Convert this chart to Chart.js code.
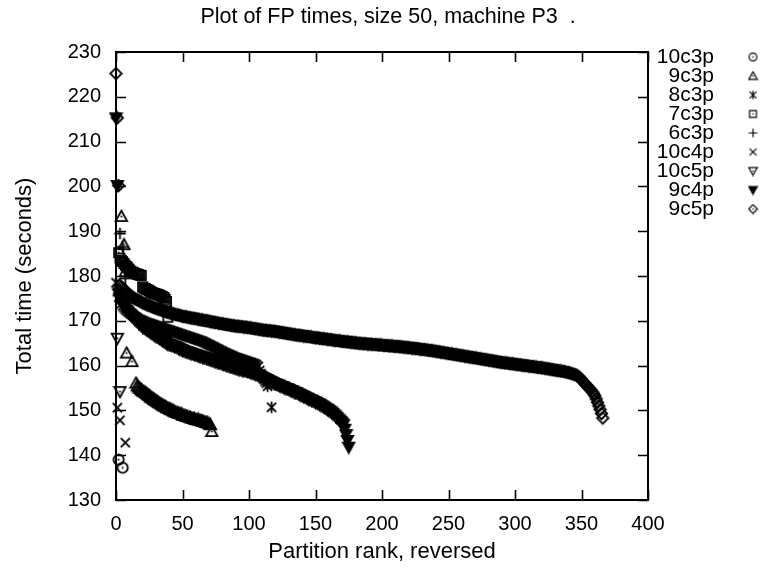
<!DOCTYPE html>
<html>
<head>
<meta charset="utf-8">
<script src="https://cdn.jsdelivr.net/npm/chart.js@4.4.0/dist/chart.umd.min.js"></script>
<style>
  html, body { margin: 0; padding: 0; background: #fff; }
  #wrap { width: 767px; height: 570px; }
</style>
</head>
<body>
<div id="wrap"><canvas id="myChart" width="767" height="570"></canvas></div>
<script>
// values indexed by partition rank (null = no point at that rank)
var seriesLabels = ['10c3p', '9c3p', '8c3p', '7c3p', '6c3p', '10c4p', '10c5p', '9c4p', '9c5p'];
var seriesMarkers = ['circle', 'triUp', 'star', 'square', 'plus', 'cross', 'triDown', 'triDownFill', 'diamond'];

var t10c3p = [null, null, 139.0, null, null, 137.2];

var t9c3p = [null, null, null, null, 193.3, null, 187.0, 181.0, 162.8, null,
  null, null, 160.9, null, null, 156.1, 155.5, 155.2, 154.9, 154.6,
  154.4, 154.2, 154.0, 153.8, 153.5, 153.3, 153.0, 152.8, 152.6, 152.4,
  152.2, 152.0, 151.8, 151.6, 151.4, 151.2, 151.0, 150.9, 150.7, 150.5,
  150.4, 150.2, 150.1, 149.9, 149.8, 149.6, 149.5, 149.4, 149.3, 149.2,
  149.0, 148.9, 148.8, 148.7, 148.6, 148.5, 148.4, 148.3, 148.2, 148.1,
  148.0, 147.9, 147.9, 147.8, 147.7, 147.6, 147.5, 147.4, 147.3, 147.2,
  147.0, 146.8, 145.3];

var t8c3p = [178.5, 176.5, 175.3, 174.5, 173.8, 173.3, 172.9, 172.6, 172.3, 172.0,
  171.8, 171.6, 171.4, 171.2, 171.0, 170.8, 170.6, 170.4, 170.3, 170.1,
  170.0, 169.9, 169.7, 169.6, 169.5, 169.4, 169.3, 169.2, 169.1, 169.0,
  168.9, 168.8, 168.7, 168.6, 168.5, 168.4, 168.3, 168.2, 168.1, 168.0,
  167.9, 167.8, 167.7, 167.6, 167.5, 167.4, 167.3, 167.2, 167.1, 167.0,
  166.9, 166.8, 166.7, 166.6, 166.5, 166.4, 166.3, 166.2, 166.1, 166.0,
  165.9, 165.8, 165.7, 165.6, 165.5, 165.4, 165.3, 165.1, 165.0, 164.8,
  164.7, 164.5, 164.4, 164.2, 164.1, 163.9, 163.8, 163.6, 163.5, 163.3,
  163.2, 163.0, 162.9, 162.7, 162.6, 162.5, 162.3, 162.2, 162.1, 161.9,
  161.8, 161.7, 161.6, 161.5, 161.4, 161.3, 161.2, 161.1, 161.0, 160.9,
  160.8, 160.7, 160.6, 160.5, 160.4, 160.3, 160.1, 159.8, 158.9, 158.2,
  157.6, 157.0, 156.5, 156.1, 155.4, null, null, 150.7];

var t7c3p = [null, null, 185.2, 184.0, 183.5, 183.2, 182.8, 182.4, 182.1, 181.8,
  181.4, 181.1, 180.9, 180.8, 180.6, 180.5, 180.4, 180.3, 180.2, 180.1,
  177.6, 177.3, 177.2, 177.0, 176.9, 176.7, 176.5, 176.3, 176.2, 176.1,
  176.0, 175.9, 175.8, 175.7, 175.5, 175.4, 175.2, 174.8, 174.3, 170.8];

var t6c3p = [null, null, null, 189.5, null, 186.5, 182.5, 179.5];

var t10c4p = [null, 150.6, null, 147.8, null, null, null, 142.8];

var t10c5p = [null, 166.1, null, 154.2];

var t9c4p = [215.3, 200.2, 176.0, 175.0, 174.3, 173.7, 173.2, 172.8, 172.4, 172.0,
  171.6, 171.3, 171.0, 170.7, 170.4, 170.1, 169.8, 169.5, 169.2, 168.9,
  168.6, 168.4, 168.2, 168.0, 167.8, 167.6, 167.4, 167.2, 167.0, 166.8,
  166.6, 166.4, 166.2, 166.0, 165.8, 165.6, 165.4, 165.2, 165.0, 164.8,
  164.7, 164.6, 164.5, 164.4, 164.3, 164.2, 164.0, 163.9, 163.7, 163.6,
  163.4, 163.3, 163.2, 163.1, 163.0, 162.9, 162.8, 162.7, 162.6, 162.5,
  162.4, 162.3, 162.2, 162.1, 162.0, 161.9, 161.8, 161.7, 161.6, 161.5,
  161.4, 161.3, 161.2, 161.1, 161.0, 160.9, 160.8, 160.7, 160.6, 160.5,
  160.4, 160.3, 160.2, 160.1, 160.0, 159.9, 159.8, 159.7, 159.6, 159.5,
  159.4, 159.3, 159.2, 159.2, 159.1, 159.0, 158.9, 158.9, 158.8, 158.7,
  158.6, 158.5, 158.4, 158.3, 158.2, 158.1, 158.0, 157.8, 157.7, 157.5,
  157.4, 157.2, 157.1, 156.9, 156.8, 156.6, 156.5, 156.3, 156.2, 156.0,
  155.9, 155.8, 155.7, 155.5, 155.4, 155.3, 155.2, 155.0, 154.9, 154.8,
  154.7, 154.5, 154.4, 154.3, 154.1, 154.0, 153.9, 153.7, 153.6, 153.4,
  153.3, 153.1, 153.0, 152.8, 152.7, 152.5, 152.4, 152.3, 152.1, 152.0,
  151.8, 151.7, 151.5, 151.4, 151.2, 151.0, 150.8, 150.6, 150.4, 150.2,
  150.0, 149.8, 149.6, 149.3, 149.0, 148.7, 148.4, 148.1, 147.8, 147.5,
  147.2, 146.8, 145.8, 144.6, 143.3, 141.8];

var t9c5p = [225.2, 215.3, 200.2, 177.9, 177.6, 177.3, 177.0, 176.7, 176.4, 176.1,
  175.8, 175.6, 175.4, 175.2, 175.0, 174.8, 174.7, 174.5, 174.4, 174.2,
  174.0, 173.9, 173.8, 173.6, 173.5, 173.4, 173.3, 173.2, 173.0, 172.9,
  172.8, 172.7, 172.6, 172.5, 172.4, 172.3, 172.2, 172.1, 172.0, 171.9,
  171.8, 171.7, 171.7, 171.6, 171.5, 171.4, 171.3, 171.3, 171.2, 171.1,
  171.0, 171.0, 170.9, 170.9, 170.8, 170.7, 170.7, 170.6, 170.6, 170.5,
  170.5, 170.4, 170.4, 170.3, 170.2, 170.2, 170.1, 170.1, 170.0, 170.0,
  169.9, 169.8, 169.8, 169.7, 169.7, 169.6, 169.6, 169.5, 169.4, 169.4,
  169.3, 169.3, 169.2, 169.2, 169.1, 169.1, 169.0, 169.0, 168.9, 168.9,
  168.8, 168.8, 168.8, 168.7, 168.7, 168.7, 168.6, 168.6, 168.6, 168.5,
  168.5, 168.4, 168.4, 168.3, 168.3, 168.2, 168.2, 168.1, 168.1, 168.0,
  168.0, 167.9, 167.9, 167.9, 167.8, 167.8, 167.8, 167.7, 167.7, 167.7,
  167.6, 167.6, 167.5, 167.5, 167.4, 167.4, 167.3, 167.3, 167.2, 167.2,
  167.1, 167.1, 167.0, 167.0, 166.9, 166.9, 166.8, 166.8, 166.8, 166.7,
  166.7, 166.6, 166.6, 166.5, 166.5, 166.5, 166.4, 166.4, 166.3, 166.3,
  166.2, 166.2, 166.2, 166.1, 166.1, 166.0, 166.0, 166.0, 165.9, 165.9,
  165.8, 165.8, 165.8, 165.7, 165.7, 165.6, 165.6, 165.6, 165.5, 165.5,
  165.4, 165.4, 165.4, 165.3, 165.3, 165.3, 165.2, 165.2, 165.2, 165.1,
  165.1, 165.1, 165.0, 165.0, 165.0, 164.9, 164.9, 164.9, 164.9, 164.8,
  164.8, 164.8, 164.8, 164.7, 164.7, 164.7, 164.7, 164.6, 164.6, 164.6,
  164.6, 164.5, 164.5, 164.5, 164.5, 164.4, 164.4, 164.4, 164.4, 164.3,
  164.3, 164.3, 164.3, 164.2, 164.2, 164.2, 164.1, 164.1, 164.1, 164.0,
  164.0, 164.0, 163.9, 163.9, 163.9, 163.8, 163.8, 163.8, 163.7, 163.7,
  163.6, 163.6, 163.6, 163.5, 163.5, 163.4, 163.4, 163.4, 163.3, 163.3,
  163.2, 163.2, 163.1, 163.1, 163.0, 163.0, 162.9, 162.9, 162.8, 162.8,
  162.7, 162.7, 162.6, 162.6, 162.5, 162.5, 162.4, 162.4, 162.3, 162.3,
  162.2, 162.2, 162.1, 162.1, 162.0, 162.0, 161.9, 161.9, 161.8, 161.8,
  161.7, 161.7, 161.6, 161.6, 161.5, 161.5, 161.4, 161.4, 161.3, 161.3,
  161.2, 161.2, 161.1, 161.1, 161.0, 161.0, 160.9, 160.9, 160.8, 160.8,
  160.7, 160.7, 160.6, 160.6, 160.6, 160.5, 160.5, 160.4, 160.4, 160.4,
  160.3, 160.3, 160.2, 160.2, 160.2, 160.1, 160.1, 160.0, 160.0, 160.0,
  159.9, 159.9, 159.8, 159.8, 159.8, 159.7, 159.7, 159.6, 159.6, 159.6,
  159.5, 159.5, 159.4, 159.4, 159.3, 159.3, 159.2, 159.2, 159.1, 159.1,
  159.0, 159.0, 158.9, 158.9, 158.8, 158.8, 158.7, 158.7, 158.6, 158.5,
  158.5, 158.4, 158.3, 158.2, 158.1, 158.0, 157.9, 157.7, 157.5, 157.2,
  156.9, 156.5, 156.2, 155.8, 155.5, 155.2, 154.9, 154.6, 154.2, 153.8,
  153.3, 152.6, 151.8, 151.0, 150.2, 149.3, 148.3];

var xTickMin = 0, xTickMax = 400, xTickStep = 50;
var yTickMin = 130, yTickMax = 230, yTickStep = 10;

var chartTitle = 'Plot of FP times, size 50, machine P3  .';
var xTitle = 'Partition rank, reversed';
var yTitle = 'Total time (seconds)';

var allSeries = [t10c3p, t9c3p, t8c3p, t7c3p, t6c3p, t10c4p, t10c5p, t9c4p, t9c5p];

var FONT = '"Liberation Sans", Arial, Helvetica, sans-serif';

function toPoints(values) {
  var pts = [];
  values.forEach(function(v, i) {
    if (v !== null) pts.push({x: i, y: v});
  });
  return pts;
}

// gnuplot-like point symbols drawn on small canvases
function makeMarker(kind, size, lw) {
  var c = document.createElement('canvas');
  c.width = size;
  c.height = size;
  var g = c.getContext('2d');
  var m = size / 2, r = size / 2 - lw, h;
  g.strokeStyle = '#000';
  g.fillStyle = '#000';
  g.lineWidth = lw;
  var dot = function() {
    g.beginPath();
    g.arc(m, m, Math.max(0.8, lw * 0.55), 0, 2 * Math.PI);
    g.fill();
  };
  g.beginPath();
  if (kind === 'circle') {
    g.arc(m, m, r * 0.9, 0, 2 * Math.PI);
    g.stroke();
    dot();
  } else if (kind === 'triUp') {
    g.moveTo(m, m - r);
    g.lineTo(m + r, m + r * 0.8);
    g.lineTo(m - r, m + r * 0.8);
    g.closePath();
    g.stroke();
    dot();
  } else if (kind === 'triDown' || kind === 'triDownFill') {
    g.moveTo(m, m + r);
    g.lineTo(m + r, m - r * 0.8);
    g.lineTo(m - r, m - r * 0.8);
    g.closePath();
    if (kind === 'triDownFill') {
      g.fill();
      g.stroke();
    } else {
      g.stroke();
      dot();
    }
  } else if (kind === 'square') {
    h = r * 0.8;
    g.rect(m - h, m - h, 2 * h, 2 * h);
    g.stroke();
    dot();
  } else if (kind === 'diamond') {
    g.moveTo(m, m - r);
    g.lineTo(m + r, m);
    g.lineTo(m, m + r);
    g.lineTo(m - r, m);
    g.closePath();
    g.stroke();
    dot();
  } else if (kind === 'plus') {
    g.moveTo(m, m - r);
    g.lineTo(m, m + r);
    g.moveTo(m - r, m);
    g.lineTo(m + r, m);
    g.stroke();
  } else if (kind === 'cross') {
    h = r * 0.8;
    g.moveTo(m - h, m - h);
    g.lineTo(m + h, m + h);
    g.moveTo(m + h, m - h);
    g.lineTo(m - h, m + h);
    g.stroke();
  } else if (kind === 'star') {
    h = r * 0.8;
    g.moveTo(m, m - r);
    g.lineTo(m, m + r);
    g.moveTo(m - h, m - h);
    g.lineTo(m + h, m + h);
    g.moveTo(m + h, m - h);
    g.lineTo(m - h, m + h);
    g.stroke();
  }
  return c;
}

var plotMarkers = seriesMarkers.map(function(k) { return makeMarker(k, 15, 1.8); });
var legendMarkers = seriesMarkers.map(function(k) { return makeMarker(k, 11, 1.2); });

// frame with inward (mirrored) tick marks
var framePlugin = {
  id: 'frame',
  beforeDatasetsDraw: function(chart) {
    var ctx = chart.ctx, a = chart.chartArea;
    var xs = chart.scales.x, ys = chart.scales.y;
    var tl = 10;
    ctx.save();
    ctx.strokeStyle = '#000';
    ctx.lineWidth = 1.6;
    ctx.beginPath();
    xs.ticks.forEach(function(t) {
      var px = Math.round(xs.getPixelForValue(t.value)) + 0.5;
      ctx.moveTo(px, a.bottom);
      ctx.lineTo(px, a.bottom - tl);
      ctx.moveTo(px, a.top);
      ctx.lineTo(px, a.top + tl);
    });
    ys.ticks.forEach(function(t) {
      var py = Math.round(ys.getPixelForValue(t.value)) + 0.5;
      ctx.moveTo(a.left, py);
      ctx.lineTo(a.left + tl, py);
      ctx.moveTo(a.right, py);
      ctx.lineTo(a.right - tl, py);
    });
    ctx.stroke();
    ctx.lineWidth = 2;
    ctx.strokeRect(a.left, a.top, a.right - a.left, a.bottom - a.top);
    ctx.restore();
  }
};

// title and key, gnuplot style (labels right-aligned, symbol to the right)
var keyPlugin = {
  id: 'key',
  afterDraw: function(chart) {
    var ctx = chart.ctx;
    ctx.save();
    ctx.fillStyle = '#000';
    ctx.textBaseline = 'middle';
    ctx.textAlign = 'center';
    ctx.font = '21.5px ' + FONT;
    ctx.fillText(chartTitle, 388, 17);
    ctx.font = '21px ' + FONT;
    ctx.textAlign = 'right';
    chart.data.datasets.forEach(function(ds, i) {
      var y = 57 + i * 19;
      ctx.fillText(ds.label, 714, y);
      var img = legendMarkers[i];
      ctx.drawImage(img, 753 - img.width / 2, y - img.height / 2);
    });
    ctx.restore();
  }
};

var datasets = allSeries.map(function(vals, i) {
  return {
    label: seriesLabels[i],
    data: toPoints(vals),
    showLine: false,
    pointStyle: plotMarkers[i],
    pointRadius: 7,
    pointHoverRadius: 7,
    borderColor: '#000',
    backgroundColor: '#000',
    clip: false,
    order: seriesLabels.length - i
  };
});

var chart = new Chart(document.getElementById('myChart'), {
  type: 'scatter',
  data: { datasets: datasets },
  options: {
    responsive: false,
    animation: false,
    events: [],
    layout: { padding: { top: 52, right: 119, bottom: 0, left: 0 } },
    plugins: {
      legend: { display: false },
      title: { display: false },
      tooltip: { enabled: false }
    },
    scales: {
      x: {
        type: 'linear',
        min: xTickMin,
        max: xTickMax,
        grid: { display: false, drawTicks: false },
        border: { display: false },
        ticks: {
          stepSize: xTickStep,
          color: '#000',
          padding: 12,
          autoSkip: false,
          maxRotation: 0,
          font: { family: FONT, size: 20 }
        },
        title: {
          display: true,
          text: xTitle,
          color: '#000',
          padding: { top: 0, bottom: 5 },
          font: { family: FONT, size: 22 }
        },
        afterFit: function(s) { s.height = 70; }
      },
      y: {
        type: 'linear',
        min: yTickMin,
        max: yTickMax,
        grid: { display: false, drawTicks: false },
        border: { display: false },
        ticks: {
          stepSize: yTickStep,
          color: '#000',
          padding: 15,
          font: { family: FONT, size: 20 }
        },
        title: {
          display: true,
          text: yTitle,
          color: '#000',
          padding: { top: 12, bottom: 0 },
          font: { family: FONT, size: 22 }
        },
        afterFit: function(s) { s.width = 116; }
      }
    }
  },
  plugins: [framePlugin, keyPlugin]
});
</script>
</body>
</html>
